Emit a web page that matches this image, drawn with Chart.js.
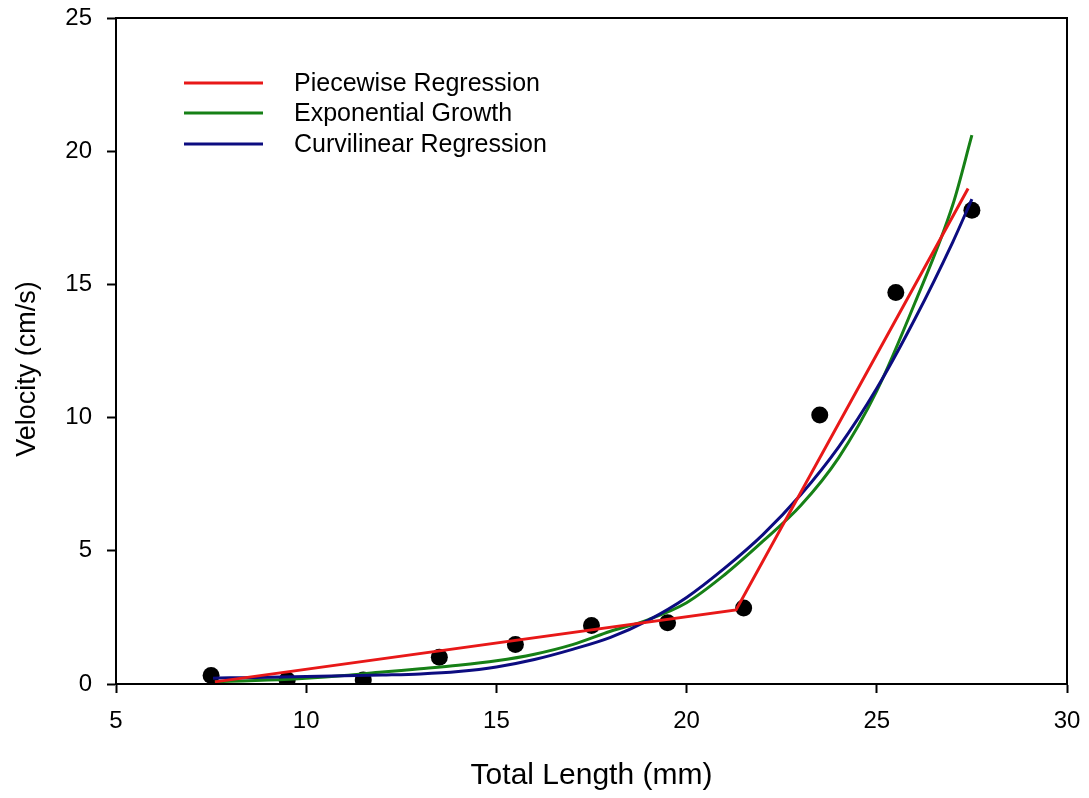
<!DOCTYPE html>
<html>
<head>
<meta charset="utf-8">
<script src="https://cdn.jsdelivr.net/npm/chart.js@4.4.1/dist/chart.umd.min.js"></script>
<style>
  html, body { margin: 0; padding: 0; background: #fff; }
  #wrap { width: 1089px; height: 798px; }
</style>
</head>
<body>
<div id="wrap"><canvas id="velocityChart"></canvas></div>
<script>
// measured points
const lengthMm = [7.5, 9.5, 11.5, 13.5, 15.5, 17.5, 19.5, 21.5, 23.5, 25.5, 27.5];
const velocity = [0.32, 0.15, 0.15, 1.0, 1.48, 2.2, 2.3, 2.85, 10.1, 14.7, 17.78];

// fitted curves
const piecewiseX = [7.6, 21.3, 27.4];
const piecewiseY = [0.08, 2.78, 18.6];

const expX = [7.6, 8, 9, 10, 11, 12, 13, 14, 15, 16, 17, 18, 19, 20, 21, 22, 23, 24, 25, 26, 27, 27.5];
const expY = [0.08, 0.1, 0.15, 0.22, 0.32, 0.45, 0.57, 0.7, 0.87, 1.12, 1.48, 1.98, 2.42, 3.05, 4.1, 5.35, 6.7, 8.5, 11.0, 14.3, 18.0, 20.6];

const curvX = [7.55, 8, 9, 10, 11, 12, 13, 14, 15, 16, 17, 18, 19, 20, 21, 22, 23, 24, 25, 26, 27, 27.5];
const curvY = [0.22, 0.23, 0.25, 0.28, 0.31, 0.34, 0.38, 0.47, 0.64, 0.92, 1.3, 1.75, 2.4, 3.25, 4.35, 5.6, 7.1, 8.9, 11.1, 13.7, 16.6, 18.2];

const xTicks = [5, 10, 15, 20, 25, 30];
const yTicks = [0, 5, 10, 15, 20, 25];

const yTitle = 'Velocity (cm/s)';
const FONT = 'Arial, "Liberation Sans", sans-serif';

function toXY(xs, ys) {
  return xs.map((x, i) => ({ x: x, y: ys[i] }));
}

// box round the plot, legend in the top-left corner, y title
const framePlugin = {
  id: 'frame',
  afterDraw(chart) {
    const { ctx, chartArea } = chart;
    ctx.save();
    ctx.strokeStyle = '#000';
    ctx.lineWidth = 2;
    ctx.strokeRect(chartArea.left, chartArea.top, chartArea.right - chartArea.left, chartArea.bottom - chartArea.top);

    const rows = chart.data.datasets.filter(ds => ds.showLine);
    const lineX0 = 184, lineX1 = 263, textX = 294;
    const rowY = [83, 113, 144];
    ctx.font = '25px ' + FONT;
    ctx.textBaseline = 'middle';
    ctx.textAlign = 'left';
    ctx.fillStyle = '#000';
    ctx.lineWidth = 3;
    rows.forEach((ds, i) => {
      ctx.strokeStyle = ds.borderColor;
      ctx.beginPath();
      ctx.moveTo(lineX0, rowY[i]);
      ctx.lineTo(lineX1, rowY[i]);
      ctx.stroke();
      ctx.fillText(ds.label, textX, rowY[i] + 1);
    });

    // y axis title sits a little below the middle of the axis in the original
    ctx.translate(28, 369);
    ctx.rotate(-Math.PI / 2);
    ctx.textAlign = 'center';
    ctx.font = '27px ' + FONT;
    ctx.fillText(yTitle, 0, 0);
    ctx.restore();
  }
};

const ctx = document.getElementById('velocityChart').getContext('2d');
const velocityChart = new Chart(ctx, {
  type: 'scatter',
  data: {
    datasets: [
      {
        label: 'Piecewise Regression',
        data: toXY(piecewiseX, piecewiseY),
        showLine: true,
        borderColor: 'rgb(232, 24, 24)',
        borderWidth: 3,
        pointRadius: 0,
        fill: false,
        order: 1
      },
      {
        label: 'Exponential Growth',
        data: toXY(expX, expY),
        showLine: true,
        borderColor: 'rgb(22, 128, 22)',
        borderWidth: 3,
        pointRadius: 0,
        cubicInterpolationMode: 'monotone',
        fill: false,
        order: 3
      },
      {
        label: 'Curvilinear Regression',
        data: toXY(curvX, curvY),
        showLine: true,
        borderColor: 'rgb(12, 12, 128)',
        borderWidth: 3,
        pointRadius: 0,
        cubicInterpolationMode: 'monotone',
        fill: false,
        order: 2
      },
      {
        label: 'Observed',
        data: toXY(lengthMm, velocity),
        showLine: false,
        pointRadius: 8.5,
        pointBackgroundColor: '#000',
        pointBorderWidth: 0,
        order: 4
      }
    ]
  },
  options: {
    responsive: true,
    maintainAspectRatio: false,
    animation: false,
    layout: { padding: { top: 18, right: 22, left: 0, bottom: 0 } },
    plugins: {
      legend: { display: false },
      tooltip: { enabled: false }
    },
    scales: {
      x: {
        type: 'linear',
        min: 5,
        max: 30,
        afterBuildTicks(scale) { scale.ticks = xTicks.map(v => ({ value: v })); },
        afterFit(scale) {
          scale.height = 114;
          scale.paddingLeft = 0;
          scale.paddingRight = 0;
        },
        grid: { drawOnChartArea: false, drawTicks: true, tickLength: 9, tickWidth: 2, tickColor: '#000' },
        border: { display: true, color: '#000', width: 2 },
        ticks: { color: '#000', font: { family: FONT, size: 24 }, padding: 14 },
        title: {
          display: true,
          text: 'Total Length (mm)',
          color: '#000',
          font: { family: FONT, size: 30 },
          padding: { top: 0, bottom: 4 }
        }
      },
      y: {
        type: 'linear',
        min: 0,
        max: 25,
        afterBuildTicks(scale) { scale.ticks = yTicks.map(v => ({ value: v })); },
        afterFit(scale) {
          scale.width = 116;
          scale.paddingTop = 0;
          scale.paddingBottom = 0;
        },
        grid: { drawOnChartArea: false, drawTicks: true, tickLength: 9, tickWidth: 2, tickColor: '#000' },
        border: { display: true, color: '#000', width: 2 },
        ticks: { color: '#000', font: { family: FONT, size: 24 }, padding: 15 }
      }
    }
  },
  plugins: [framePlugin]
});
</script>
</body>
</html>
